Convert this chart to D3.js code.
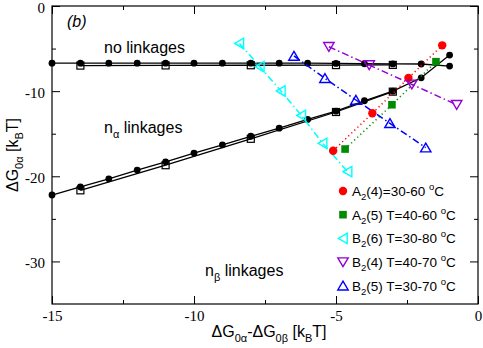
<!DOCTYPE html>
<html><head><meta charset="utf-8">
<script src="https://cdn.jsdelivr.net/npm/d3@7"></script>
<style>body{margin:0;background:#fff}svg{display:block}</style>
</head><body><svg id="c" width="483" height="348"></svg>
<script>
// ---- data ----
const xInt = [-15,-14,-13,-12,-11,-10,-9,-8,-7,-6,-5,-4,-3,-2,-1];
const noLinkCircY = [-6.72,-6.72,-6.72,-6.72,-6.72,-6.72,-6.72,-6.72,-6.72,-6.72,-6.75,-6.78,-6.8,-6.81,-7.05];
const sqX = [-14,-11,-8,-5,-3];
const noLinkSqY = [-7.0,-6.98,-6.96,-6.94,-6.92];
const nAlphaCircY = [-22.2,-21.25,-20.3,-19.27,-18.3,-17.27,-16.3,-15.3,-14.35,-13.32,-12.35,-11.13,-10.0,-8.43,-5.76];
const nAlphaSqY = [-21.65,-18.7,-15.6,-12.45,-10.06];
const a24X = [-5.1,-3.72,-2.45,-1.26];
const a24Y = [-17.0,-12.6,-8.46,-4.62];
const a25X = [-4.68,-3.03,-1.48];
const a25Y = [-16.8,-11.6,-6.54];
const b26X = [-8.4,-7.68,-6.94,-6.22,-5.47,-4.59];
const b26Y = [-4.4,-7.13,-9.98,-12.85,-16.13,-19.46];
const b24X = [-5.25,-3.83,-2.33,-0.75];
const b24Y = [-4.78,-6.93,-9.2,-11.6];
const b25X = [-6.48,-5.39,-4.3,-3.1,-1.84];
const b25Y = [-5.87,-8.49,-11.04,-13.78,-16.64];
const xMajor = [-15,-10,-5,0];
const xMinor = [-12.5,-7.5,-2.5];
const yMajor = [0,-10,-20,-30];
const yMinor = [-5,-15,-25];
const legendLabels = [
  ["A","2","(4)=30-60 ","o","C"],
  ["A","2","(5) T=40-60 ","o","C"],
  ["B","2","(6) T=30-80 ","o","C"],
  ["B","2","(4) T=40-70 ","o","C"],
  ["B","2","(5) T=30-70 ","o","C"]
];

// ---- chart ----
const svg = d3.select("#c");
const L=52,R=478,T=6,B=304;
const x = d3.scaleLinear().domain([-15,0]).range([L,R]);
const y = d3.scaleLinear().domain([-35,0]).range([B,T]);
const serif = "'Liberation Serif','Times New Roman',serif";
const sans = "'Liberation Sans',Arial,sans-serif";

function ticks(axisGen, tr){
  const g = svg.append("g").attr("transform",tr).call(axisGen);
  g.select(".domain").remove();
  g.selectAll("line").attr("stroke","#000").attr("stroke-width",1);
  return g;
}
const fmt = d=>String(d);
const bx = ticks(d3.axisBottom(x).tickValues(xMajor).tickSize(-8).tickPadding(6).tickFormat(fmt), `translate(0,${B})`);
ticks(d3.axisBottom(x).tickValues(xMinor).tickSize(-4).tickFormat(""), `translate(0,${B})`);
ticks(d3.axisTop(x).tickValues(xMajor).tickSize(-8).tickFormat(""), `translate(0,${T})`);
ticks(d3.axisTop(x).tickValues(xMinor).tickSize(-4).tickFormat(""), `translate(0,${T})`);
const ly = ticks(d3.axisLeft(y).tickValues(yMajor).tickSize(-8).tickPadding(7).tickFormat(fmt), `translate(${L},0)`);
ticks(d3.axisLeft(y).tickValues(yMinor).tickSize(-4).tickFormat(""), `translate(${L},0)`);
ticks(d3.axisRight(y).tickValues(yMajor).tickSize(-8).tickFormat(""), `translate(${R},0)`);
ticks(d3.axisRight(y).tickValues(yMinor).tickSize(-4).tickFormat(""), `translate(${R},0)`);
bx.attr("font-family",serif).selectAll("text").attr("font-family",serif).attr("font-size",15).attr("fill","#000");
ly.attr("font-family",serif).selectAll("text").attr("font-family",serif).attr("font-size",15).attr("fill","#000").attr("dy","0.4em");

svg.append("rect").attr("x",L).attr("y",T).attr("width",R-L).attr("height",B-T)
  .attr("fill","none").attr("stroke","#000").attr("stroke-width",1.2);

const line = d3.line().x(d=>x(d[0])).y(d=>y(d[1]));
const zip = (a,b)=>a.map((v,i)=>[v,b[i]]);

function series(pts, color, dash, w){
  svg.append("path").datum(pts).attr("d",line).attr("fill","none")
    .attr("stroke",color).attr("stroke-width",w).attr("stroke-dasharray",dash);
}
const tri = "M0,-4.6L5.2,4.2L-5.2,4.2Z";
function marker(g, type, color, p){
  if(type==="circ") return g.append("circle").attr("r",p).attr("fill",color);
  if(type==="sq") return g.append("rect").attr("x",-p).attr("y",-p).attr("width",2*p).attr("height",2*p).attr("fill",color);
  if(type==="osq") return g.append("rect").attr("x",-3.5).attr("y",-3.5).attr("width",7).attr("height",7).attr("fill","none").attr("stroke",color).attr("stroke-width",1.2);
  return g.append("path").attr("d",tri).attr("transform",`rotate(${p})`).attr("fill","none").attr("stroke",color).attr("stroke-width",1.4);
}
function points(pts, type, color, p){
  pts.forEach(d=>{
    const g = svg.append("g").attr("transform",`translate(${x(d[0])},${y(d[1])})`);
    marker(g,type,color,p);
  });
}

series(zip(sqX,noLinkSqY),"#000",null,1.3);
series(zip(sqX,nAlphaSqY),"#000",null,1.3);
series(zip(xInt,noLinkCircY),"#000",null,1.3);
series(zip(xInt,nAlphaCircY),"#000",null,1.3);
points(zip(sqX,noLinkSqY),"osq","#000");
points(zip(sqX,nAlphaSqY),"osq","#000");
points(zip(xInt,noLinkCircY),"circ","#000",3.4);
points(zip(xInt,nAlphaCircY),"circ","#000",3.4);

const red="#ff0000", green="#008b00", cyan="#00ffff", violet="#9400d3", blue="#0000ff";
series(zip(a24X,a24Y),red,"1.2,3",1.5);
series(zip(a25X,a25Y),green,"1.2,3",1.5);
series(zip(b26X,b26Y),cyan,"7,3,1.5,3",1.5);
series(zip(b24X,b24Y),violet,"7,3,1.5,3",1.5);
series(zip(b25X,b25Y),blue,"7,3,1.5,3",1.5);
points(zip(a24X,a24Y),"circ",red,4.2);
points(zip(a25X,a25Y),"sq",green,3.8);
points(zip(b26X,b26Y),"tri",cyan,-90);
points(zip(b24X,b24Y),"tri",violet,180);
points(zip(b25X,b25Y),"tri",blue,0);

const legTypes=[["circ",red,4.2],["sq",green,3.8],["tri",cyan,-90],["tri",violet,180],["tri",blue,0]];
legendLabels.forEach((lab,i)=>{
  const yy = 191 + i*23.7;
  const g = svg.append("g").attr("transform",`translate(343,${yy})`);
  marker(g,legTypes[i][0],legTypes[i][1],legTypes[i][2]);
  const t = svg.append("text").attr("x",352).attr("y",yy+5).attr("font-family",sans).attr("font-size",13.5).attr("fill","#000");
  t.append("tspan").text(lab[0]);
  t.append("tspan").attr("dy",4).attr("font-size",9.5).text(lab[1]);
  t.append("tspan").attr("dy",-4).text(lab[2]);
  t.append("tspan").attr("dy",-6).attr("font-size",9.5).text(lab[3]);
  t.append("tspan").attr("dy",6).text(lab[4]);
});

function txt(xp,yp,size,parts,opts={}){
  const t = svg.append("text").attr("x",xp).attr("y",yp).attr("font-family",sans).attr("font-size",size).attr("fill","#000");
  if(opts.italic) t.attr("font-style","italic");
  if(opts.anchor) t.attr("text-anchor",opts.anchor);
  if(opts.rotate) t.attr("transform",`rotate(-90,${xp},${yp})`);
  parts.forEach(p=>{
    const s = t.append("tspan").text(p[0]);
    if(p[1]) s.attr("dy",p[1]);
    if(p[2]) s.attr("font-size",p[2]);
  });
  return t;
}
txt(67,27,16,[["(b)"]],{italic:true});
txt(104,53,16,[["no linkages"]]);
txt(104,133,16,[["n"],["\u03b1",5,11],[" linkages",-5]]);
txt(205,276,16,[["n"],["\u03b2",5,11],[" linkages",-5]]);
txt(269,337,16,[["\u0394G"],["0\u03b1",5,11],["-\u0394G",-5],["0\u03b2",5,11],[" [k",-5],["B",5,11],["T]",-5]],{anchor:"middle"});
txt(18,155,16,[["\u0394G"],["0\u03b1",5,11],[" [k",-5],["B",5,11],["T]",-5]],{anchor:"middle",rotate:true});
</script></body></html>
